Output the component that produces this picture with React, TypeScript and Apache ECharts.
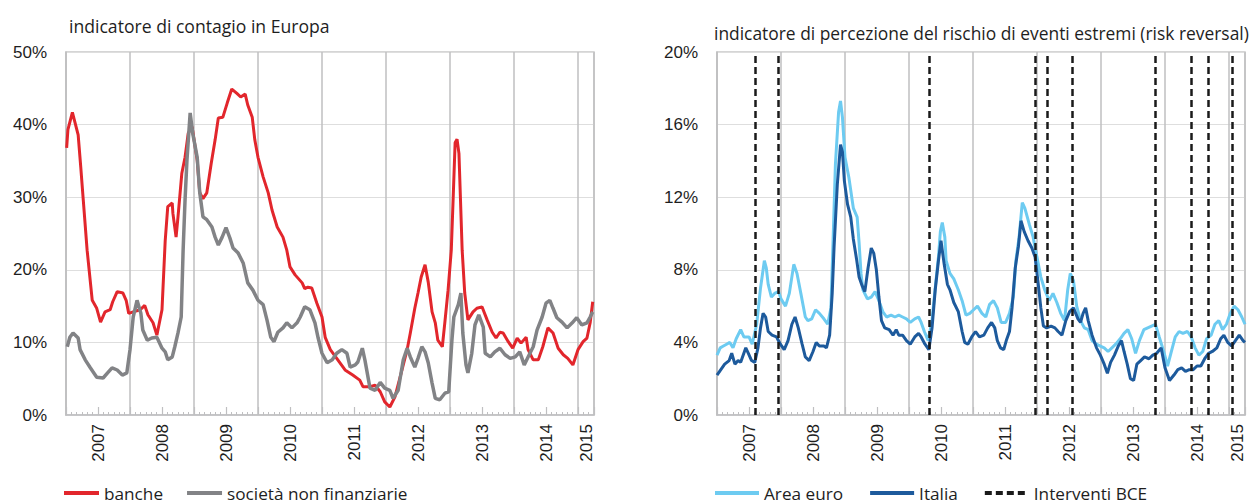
import React, { useEffect, useRef } from 'react';
import * as echarts from 'echarts';

// ---- data (x = fractional year, y = percent) ----
const banche: [number, number][] = [
  [2007.01, 36.8], [2007.03, 39.3], [2007.1, 41.7], [2007.19, 38.6], [2007.23, 34.2], [2007.27, 29.6],
  [2007.33, 22.7], [2007.41, 15.8], [2007.48, 14.7], [2007.54, 12.8], [2007.61, 14.2], [2007.69, 14.5],
  [2007.73, 15.6], [2007.8, 17.0], [2007.89, 16.8], [2007.94, 15.8], [2007.98, 14.0], [2008.05, 14.2],
  [2008.16, 14.5], [2008.23, 15.1], [2008.28, 13.8], [2008.36, 12.7], [2008.42, 11.0], [2008.5, 14.5],
  [2008.55, 24.0], [2008.59, 28.7], [2008.66, 29.2], [2008.67, 27.8], [2008.72, 24.5], [2008.75, 27.3],
  [2008.81, 33.3], [2008.86, 35.5], [2008.91, 38.8], [2008.97, 39.7], [2009.05, 35.1], [2009.09, 30.6],
  [2009.14, 29.8], [2009.2, 30.6], [2009.27, 34.7], [2009.33, 37.9], [2009.38, 40.9], [2009.45, 41.0],
  [2009.52, 43.0], [2009.59, 44.9], [2009.67, 44.3], [2009.73, 43.8], [2009.8, 44.2], [2009.84, 42.7],
  [2009.91, 41.0], [2009.95, 37.9], [2010.0, 35.5], [2010.08, 32.8], [2010.16, 30.6], [2010.22, 28.2],
  [2010.3, 25.9], [2010.39, 24.5], [2010.45, 22.7], [2010.5, 20.4], [2010.58, 19.3], [2010.69, 18.2],
  [2010.73, 17.4], [2010.78, 17.6], [2010.84, 17.5], [2010.92, 15.4], [2011.0, 13.5], [2011.05, 10.7],
  [2011.13, 9.0], [2011.23, 7.8], [2011.36, 6.2], [2011.48, 5.5], [2011.59, 4.8], [2011.64, 3.9],
  [2011.75, 3.9], [2011.83, 4.1], [2011.91, 3.2], [2011.98, 1.8], [2012.06, 1.1], [2012.14, 2.5],
  [2012.25, 6.2], [2012.33, 9.0], [2012.38, 11.3], [2012.45, 14.7], [2012.5, 16.8], [2012.55, 19.0],
  [2012.61, 20.7], [2012.66, 18.3], [2012.72, 14.2], [2012.77, 12.7], [2012.81, 10.3], [2012.88, 9.4],
  [2012.92, 12.8], [2012.97, 17.2], [2013.02, 22.7], [2013.05, 30.0], [2013.08, 37.5], [2013.11, 38.0],
  [2013.14, 36.0], [2013.19, 22.7], [2013.23, 16.8], [2013.28, 13.1], [2013.36, 14.2], [2013.42, 14.7],
  [2013.5, 14.9], [2013.58, 13.1], [2013.66, 11.4], [2013.72, 10.6], [2013.78, 11.4], [2013.83, 11.3],
  [2013.91, 10.1], [2013.98, 9.2], [2014.05, 10.6], [2014.11, 9.9], [2014.19, 10.7], [2014.22, 9.0],
  [2014.3, 7.6], [2014.38, 7.6], [2014.45, 9.4], [2014.53, 12.0], [2014.61, 11.3], [2014.69, 9.2],
  [2014.77, 8.3], [2014.84, 7.8], [2014.92, 6.9], [2015.0, 9.0], [2015.08, 10.1], [2015.14, 10.6],
  [2015.19, 12.7], [2015.23, 15.6],
];

const societa: [number, number][] = [
  [2007.02, 9.4], [2007.06, 10.7], [2007.11, 11.3], [2007.19, 10.6], [2007.22, 9.0], [2007.3, 7.6],
  [2007.38, 6.5], [2007.48, 5.2], [2007.58, 5.1], [2007.66, 5.9], [2007.72, 6.5], [2007.8, 6.2],
  [2007.88, 5.5], [2007.95, 5.8], [2008.0, 9.0], [2008.05, 13.5], [2008.11, 15.8], [2008.17, 14.0],
  [2008.2, 11.7], [2008.27, 10.3], [2008.34, 10.6], [2008.42, 10.7], [2008.5, 9.2], [2008.55, 8.7],
  [2008.59, 7.6], [2008.66, 8.0], [2008.7, 9.4], [2008.75, 11.3], [2008.8, 13.5], [2008.83, 22.7],
  [2008.86, 29.6], [2008.89, 35.1], [2008.94, 41.6], [2008.98, 38.8], [2009.05, 35.5], [2009.09, 30.6],
  [2009.14, 27.3], [2009.2, 26.9], [2009.28, 25.9], [2009.33, 24.5], [2009.38, 23.4], [2009.44, 24.5],
  [2009.5, 25.8], [2009.56, 24.4], [2009.61, 23.0], [2009.69, 22.3], [2009.77, 20.9], [2009.84, 18.2],
  [2009.92, 17.2], [2010.0, 15.8], [2010.08, 15.2], [2010.14, 13.1], [2010.2, 10.7], [2010.25, 10.1],
  [2010.31, 11.4], [2010.39, 12.0], [2010.45, 12.7], [2010.53, 12.0], [2010.61, 12.7], [2010.66, 13.5],
  [2010.73, 14.9], [2010.81, 14.5], [2010.89, 12.7], [2010.94, 10.6], [2011.0, 8.5], [2011.08, 7.2],
  [2011.16, 7.6], [2011.23, 8.5], [2011.31, 9.0], [2011.39, 8.5], [2011.44, 6.6], [2011.52, 6.9],
  [2011.56, 7.3], [2011.63, 9.2], [2011.67, 7.6], [2011.75, 3.7], [2011.83, 3.4], [2011.91, 4.5],
  [2011.98, 3.7], [2012.06, 3.4], [2012.11, 2.3], [2012.19, 3.4], [2012.27, 7.6], [2012.33, 9.2],
  [2012.38, 8.0], [2012.45, 6.6], [2012.5, 7.8], [2012.56, 9.4], [2012.61, 8.7], [2012.66, 7.2],
  [2012.72, 4.4], [2012.77, 2.3], [2012.84, 2.1], [2012.92, 3.0], [2012.98, 3.2], [2013.03, 10.3],
  [2013.06, 13.5], [2013.13, 15.2], [2013.17, 16.8], [2013.2, 11.3], [2013.25, 6.9], [2013.28, 5.8],
  [2013.34, 8.5], [2013.39, 12.4], [2013.45, 13.8], [2013.52, 12.1], [2013.55, 8.5], [2013.63, 8.0],
  [2013.7, 8.7], [2013.78, 9.2], [2013.86, 8.3], [2013.94, 7.8], [2014.02, 8.0], [2014.09, 8.7],
  [2014.16, 6.9], [2014.22, 8.0], [2014.3, 9.4], [2014.36, 11.7], [2014.44, 13.5], [2014.5, 15.4],
  [2014.56, 15.8], [2014.61, 14.7], [2014.67, 13.4], [2014.75, 12.8], [2014.83, 12.0], [2014.91, 12.7],
  [2014.98, 13.4], [2015.06, 12.4], [2015.14, 12.7], [2015.19, 13.5], [2015.23, 14.2],
];

const areaEuro: [number, number][] = [
  [2007.0, 3.3], [2007.05, 3.7], [2007.1, 3.8], [2007.15, 3.9], [2007.2, 4.0], [2007.25, 3.7],
  [2007.3, 4.2], [2007.37, 4.7], [2007.42, 4.3], [2007.5, 4.3], [2007.55, 3.9], [2007.62, 5.0],
  [2007.68, 7.0], [2007.74, 8.5], [2007.77, 8.1], [2007.8, 7.2], [2007.85, 6.5], [2007.9, 6.7],
  [2007.96, 6.8], [2008.0, 6.4], [2008.07, 6.0], [2008.13, 6.7], [2008.2, 8.3], [2008.25, 7.8],
  [2008.31, 6.7], [2008.38, 5.4], [2008.42, 5.2], [2008.48, 5.3], [2008.54, 5.8], [2008.6, 5.6],
  [2008.67, 5.3], [2008.73, 5.0], [2008.78, 5.9], [2008.81, 9.2], [2008.85, 13.8], [2008.9, 16.7],
  [2008.93, 17.3], [2008.96, 16.4], [2009.0, 14.2], [2009.06, 13.1], [2009.13, 11.4], [2009.19, 10.9],
  [2009.22, 9.5], [2009.25, 7.8], [2009.28, 6.9], [2009.35, 6.4], [2009.41, 6.5], [2009.47, 6.8],
  [2009.53, 6.3], [2009.59, 5.7], [2009.65, 5.4], [2009.72, 5.5], [2009.78, 5.4], [2009.84, 5.5],
  [2009.9, 5.4], [2009.96, 5.3], [2010.02, 5.1], [2010.09, 5.3], [2010.15, 5.4], [2010.19, 5.1],
  [2010.24, 4.6], [2010.3, 4.1], [2010.36, 5.2], [2010.41, 7.0], [2010.46, 8.7], [2010.49, 10.1],
  [2010.52, 10.6], [2010.56, 9.8], [2010.58, 8.5], [2010.64, 7.8], [2010.7, 7.5], [2010.77, 6.9],
  [2010.83, 6.3], [2010.89, 5.5], [2010.95, 5.6], [2011.01, 5.8], [2011.07, 6.0], [2011.14, 5.6],
  [2011.2, 5.4], [2011.26, 6.1], [2011.32, 6.3], [2011.38, 5.9], [2011.44, 5.1], [2011.51, 5.1],
  [2011.57, 5.6], [2011.63, 6.5], [2011.67, 8.5], [2011.72, 9.8], [2011.77, 11.7], [2011.81, 11.4],
  [2011.88, 10.5], [2011.94, 9.8], [2011.97, 9.2], [2012.0, 8.7], [2012.06, 7.6], [2012.12, 6.9],
  [2012.19, 6.3], [2012.25, 6.7], [2012.31, 6.2], [2012.37, 5.6], [2012.43, 5.2], [2012.48, 6.9],
  [2012.52, 7.8], [2012.57, 7.4], [2012.62, 6.0], [2012.68, 5.2], [2012.74, 4.8], [2012.8, 4.7],
  [2012.86, 4.1], [2012.93, 3.9], [2012.99, 3.8], [2013.05, 3.7], [2013.11, 3.5], [2013.17, 3.7],
  [2013.23, 3.9], [2013.3, 4.2], [2013.36, 4.5], [2013.42, 4.7], [2013.48, 4.2], [2013.54, 3.4],
  [2013.6, 4.1], [2013.67, 4.7], [2013.73, 4.8], [2013.79, 4.9], [2013.85, 5.0], [2013.91, 4.3],
  [2013.98, 3.5], [2014.04, 2.7], [2014.1, 3.5], [2014.16, 4.3], [2014.22, 4.6], [2014.28, 4.5],
  [2014.35, 4.6], [2014.41, 4.3], [2014.47, 3.7], [2014.53, 3.3], [2014.59, 3.5], [2014.65, 4.2],
  [2014.72, 4.4], [2014.78, 5.0], [2014.84, 5.2], [2014.9, 4.7], [2014.96, 5.0], [2015.02, 5.6],
  [2015.08, 6.0], [2015.14, 5.8], [2015.2, 5.4], [2015.25, 5.0],
];

const italia: [number, number][] = [
  [2007.0, 2.2], [2007.06, 2.5], [2007.12, 2.8], [2007.19, 3.0], [2007.23, 3.4], [2007.28, 2.8],
  [2007.33, 3.0], [2007.37, 2.9], [2007.41, 3.3], [2007.45, 3.7], [2007.49, 3.4], [2007.54, 3.0],
  [2007.59, 2.9], [2007.64, 3.7], [2007.68, 4.8], [2007.72, 5.6], [2007.76, 5.4], [2007.8, 4.6],
  [2007.86, 4.4], [2007.93, 4.3], [2007.99, 3.9], [2008.05, 3.6], [2008.11, 4.1], [2008.17, 5.0],
  [2008.22, 5.4], [2008.27, 4.8], [2008.33, 3.9], [2008.38, 3.2], [2008.44, 3.0], [2008.5, 3.5],
  [2008.55, 4.0], [2008.6, 3.8], [2008.67, 3.8], [2008.71, 3.7], [2008.76, 4.4], [2008.8, 6.7],
  [2008.83, 9.3], [2008.88, 12.7], [2008.93, 14.9], [2008.96, 14.5], [2008.99, 12.9], [2009.04, 11.6],
  [2009.09, 10.9], [2009.13, 9.7], [2009.18, 8.6], [2009.22, 7.6], [2009.27, 7.1], [2009.31, 6.8],
  [2009.36, 8.1], [2009.41, 9.2], [2009.45, 8.9], [2009.49, 8.0], [2009.53, 6.5], [2009.57, 5.2],
  [2009.62, 4.8], [2009.69, 4.7], [2009.75, 4.4], [2009.8, 4.7], [2009.84, 4.4], [2009.9, 4.4],
  [2009.96, 4.1], [2010.02, 3.9], [2010.09, 4.3], [2010.15, 4.5], [2010.19, 4.3], [2010.25, 3.9],
  [2010.31, 3.6], [2010.36, 4.8], [2010.41, 6.9], [2010.46, 8.5], [2010.5, 9.6], [2010.55, 8.3],
  [2010.6, 7.2], [2010.64, 6.9], [2010.7, 6.2], [2010.77, 5.7], [2010.83, 4.6], [2010.87, 4.0],
  [2010.92, 3.9], [2010.98, 4.3], [2011.04, 4.6], [2011.1, 4.3], [2011.17, 4.4], [2011.23, 4.8],
  [2011.29, 5.1], [2011.34, 4.8], [2011.38, 4.1], [2011.43, 3.7], [2011.48, 3.6], [2011.52, 4.1],
  [2011.57, 4.6], [2011.61, 5.9], [2011.66, 8.1], [2011.71, 9.3], [2011.75, 10.7], [2011.8, 10.1],
  [2011.86, 9.6], [2011.92, 9.2], [2011.97, 8.7], [2012.02, 7.2], [2012.06, 5.9], [2012.1, 4.9],
  [2012.15, 4.8], [2012.22, 4.9], [2012.28, 4.8], [2012.33, 4.6], [2012.39, 4.4], [2012.45, 5.2],
  [2012.51, 5.7], [2012.57, 5.9], [2012.64, 5.3], [2012.68, 5.1], [2012.72, 5.6], [2012.76, 5.9],
  [2012.8, 5.2], [2012.86, 4.4], [2012.93, 3.7], [2012.99, 3.3], [2013.05, 2.8], [2013.1, 2.3],
  [2013.15, 2.9], [2013.21, 3.3], [2013.27, 3.8], [2013.32, 4.1], [2013.36, 3.5], [2013.41, 2.8],
  [2013.46, 2.0], [2013.51, 1.9], [2013.56, 2.8], [2013.62, 3.0], [2013.68, 3.2], [2013.75, 3.1],
  [2013.81, 3.3], [2013.87, 3.4], [2013.94, 3.7], [2014.0, 2.6], [2014.07, 1.9], [2014.14, 2.2],
  [2014.2, 2.5], [2014.26, 2.6], [2014.32, 2.4], [2014.38, 2.5], [2014.44, 2.5], [2014.5, 2.7],
  [2014.56, 2.7], [2014.62, 3.1], [2014.68, 3.4], [2014.74, 3.5], [2014.81, 3.7], [2014.87, 4.2],
  [2014.92, 4.4], [2014.98, 4.0], [2015.04, 3.8], [2015.1, 4.1], [2015.16, 4.4], [2015.22, 4.1],
  [2015.25, 4.0],
];

const interventiBCE: number[] = [2007.59, 2007.95, 2010.31, 2011.97, 2012.16, 2012.55, 2013.84, 2014.41, 2014.67, 2015.05];

const yearLabels: number[] = [2007, 2008, 2009, 2010, 2011, 2012, 2013, 2014, 2015];
const leftTitle = 'indicatore di contagio in Europa';
const rightTitle = 'indicatore di percezione del rischio di eventi estremi (risk reversal)';
const leftLegend = ['banche', 'società non finanziarie'];
const rightLegend = ['Area euro', 'Italia', 'Interventi BCE'];

const X_MIN = 2007;
const X_MAX = 2015.25;

const GRID_COL = '#bfbfc1';
const LIGHT_GRID = '#dedede';
const TXT = '#1e1e1e';
const NUM_FONT = 'Liberation Sans, Arial, sans-serif';
const TEXT_FONT = 'Open Sans, Noto Sans, sans-serif';

function labelFor(v: number): string {
  for (const y of yearLabels) {
    const center = y === 2015 ? 2015.125 : y + 0.5;
    if (Math.abs(v - center) < 1e-4) return String(y);
  }
  return '';
}

function xAxesFor(gridIndex: number) {
  const base = { type: 'value', gridIndex, min: X_MIN, max: X_MAX, position: 'bottom' };
  return [
    {
      ...base,
      interval: 1,
      axisLine: { show: true, onZero: false, lineStyle: { color: GRID_COL, width: 1.5 } },
      axisTick: { show: false },
      axisLabel: { show: false },
      splitLine: { show: true, lineStyle: { color: GRID_COL, width: 1.5 } },
    },
    {
      ...base,
      interval: 1 / 12,
      axisLine: { show: false, onZero: false },
      axisTick: { show: true, inside: true, length: 3, lineStyle: { color: GRID_COL, width: 1 } },
      axisLabel: { show: false },
      splitLine: { show: false },
    },
    {
      ...base,
      interval: 0.5,
      axisLine: { show: false, onZero: false },
      axisTick: { show: true, inside: true, length: 8, lineStyle: { color: GRID_COL, width: 1.2 } },
      axisLabel: { show: false },
      splitLine: { show: false },
    },
    {
      ...base,
      interval: 0.125,
      axisLine: { show: false, onZero: false },
      axisTick: { show: false },
      splitLine: { show: false },
      axisLabel: {
        show: true,
        rotate: 90,
        margin: 9,
        fontSize: 17,
        fontFamily: NUM_FONT,
        color: TXT,
        formatter: (v: number) => labelFor(v),
      },
    },
  ];
}

function yAxisFor(gridIndex: number, max: number, interval: number) {
  return {
    type: 'value',
    gridIndex,
    min: 0,
    max,
    interval,
    axisLine: { show: true, lineStyle: { color: GRID_COL, width: 1.5 } },
    axisTick: { show: false },
    axisLabel: { formatter: '{value}%', fontSize: 17, fontFamily: NUM_FONT, color: TXT, margin: 19 },
    splitLine: { show: true, lineStyle: { color: LIGHT_GRID, width: 1.2 } },
  };
}

const legendText = { fontFamily: TEXT_FONT, fontSize: 17.2, lineHeight: 18, color: TXT };
const legendItemStyle = { opacity: 0, borderWidth: 0 };

export default function App() {
  const ref = useRef<HTMLDivElement>(null);
  useEffect(() => {
    if (!ref.current) return;
    const chart = echarts.init(ref.current, undefined, { renderer: 'svg' });
    chart.setOption({
      animation: false,
      backgroundColor: '#ffffff',
      title: [
        { text: leftTitle, left: 64, top: 12, textStyle: { fontFamily: TEXT_FONT, fontSize: 17.6, fontWeight: 'normal', color: TXT } },
        { text: rightTitle, left: 709, top: 19, textStyle: { fontFamily: TEXT_FONT, fontSize: 17.4, fontWeight: 'normal', color: TXT } },
      ],
      grid: [
        { left: 66, top: 52, width: 528, height: 363, show: true, borderColor: '#c8c8c8', borderWidth: 1.5 },
        { left: 717, top: 52, width: 528, height: 363, show: true, borderColor: '#c8c8c8', borderWidth: 1.5 },
      ],
      xAxis: [...xAxesFor(0), ...xAxesFor(1)],
      yAxis: [yAxisFor(0, 50, 10), yAxisFor(1, 20, 4)],
      legend: [
        {
          data: leftLegend,
          left: 62,
          top: 484,
          padding: 0,
          itemWidth: 35,
          itemHeight: 14,
          itemGap: 22,
          textStyle: legendText,
          lineStyle: { width: 4 },
          itemStyle: legendItemStyle,
        },
        {
          data: rightLegend,
          left: 713,
          top: 484,
          padding: 0,
          itemWidth: 44,
          itemHeight: 14,
          itemGap: 25,
          textStyle: legendText,
          lineStyle: { width: 4 },
          itemStyle: legendItemStyle,
        },
      ],
      series: [
        {
          name: 'banche', type: 'line', xAxisIndex: 0, yAxisIndex: 0, data: banche,
          symbol: 'none', showSymbol: false,
          lineStyle: { color: '#e2262c', width: 3 }, itemStyle: { color: '#e2262c' },
        },
        {
          name: 'società non finanziarie', type: 'line', xAxisIndex: 0, yAxisIndex: 0, data: societa,
          symbol: 'none', showSymbol: false,
          lineStyle: { color: '#828386', width: 3.5 }, itemStyle: { color: '#828386' },
        },
        {
          name: 'Area euro', type: 'line', xAxisIndex: 4, yAxisIndex: 1, data: areaEuro,
          symbol: 'none', showSymbol: false,
          lineStyle: { color: '#6dcbf1', width: 3 }, itemStyle: { color: '#6dcbf1' },
        },
        {
          name: 'Italia', type: 'line', xAxisIndex: 4, yAxisIndex: 1, data: italia,
          symbol: 'none', showSymbol: false,
          lineStyle: { color: '#1d5a9c', width: 3 }, itemStyle: { color: '#1d5a9c' },
        },
        {
          name: 'Interventi BCE', type: 'line', xAxisIndex: 4, yAxisIndex: 1, data: [],
          symbol: 'none', showSymbol: false,
          lineStyle: { color: '#1a1a1a', width: 3, type: [7, 4] }, itemStyle: { color: '#1a1a1a' },
          markLine: {
            silent: true,
            symbol: ['none', 'none'],
            label: { show: false },
            lineStyle: { color: '#1a1a1a', width: 2.5, type: [7, 4] },
            emphasis: { disabled: true },
            data: interventiBCE.map((v) => ({ xAxis: v })),
          },
          z: 5,
        },
      ],
    });
    return () => chart.dispose();
  }, []);
  return <div ref={ref} style={{ position: 'absolute', left: 0, top: 0, width: 1256, height: 504 }} />;
}
